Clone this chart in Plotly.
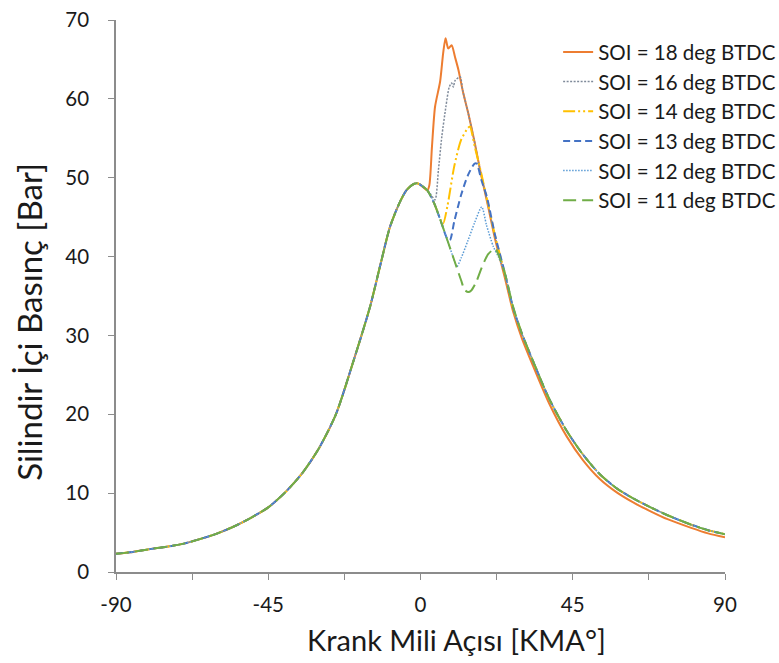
import plotly.graph_objects as go

# Common compression curve (all SOI cases identical here)
BASE_ANGLE = [-90, -85, -80, -75, -70, -65, -60, -55, -50, -45, -40, -35, -30, -25, -20, -15, -12, -9, -6, -4, -2, -1, 0, 2]
BASE_P = [2.3, 2.55, 2.9, 3.2, 3.6, 4.2, 4.9, 5.8, 6.9, 8.2, 10.1, 12.5, 15.7, 20.0, 26.5, 33.5, 38.7, 43.8, 47.0, 48.5, 49.2, 49.3, 49.1, 48.4]

# Combustion region, per case
A18 = [2.6, 3.4, 4.3, 5.8, 6.7, 7.4, 8.2, 9.2, 10.2, 11.2, 12.5, 14.1, 16.0, 17.6, 20.0, 22.0, 25.0, 27.4]
P18 = [49.0, 54.0, 59.0, 62.2, 65.8, 67.7, 66.4, 66.8, 65.3, 63.7, 61.0, 58.2, 54.5, 51.0, 46.3, 42.3, 37.2, 33.0]

A16 = [3.0, 4.3, 5.3, 6.3, 7.5, 8.5, 9.2, 9.7, 10.2, 11.7, 12.5, 14.1, 16.0, 17.6, 20.0, 22.0, 25.0, 27.4]
P16 = [47.9, 47.2, 51.0, 55.2, 59.0, 61.5, 62.0, 61.5, 62.3, 62.8, 61.0, 58.2, 54.5, 51.0, 46.5, 42.6, 37.6, 33.4]

A14 = [4.0, 6.0, 6.7, 8.0, 10.0, 12.0, 14.0, 14.6, 16.0, 17.6, 20.0, 22.0, 25.0, 27.4]
P14 = [46.8, 44.6, 44.2, 46.5, 51.5, 54.8, 56.3, 56.5, 54.0, 51.2, 46.6, 42.7, 37.7, 33.4]

A13 = [4.0, 6.0, 8.0, 8.7, 10.0, 12.0, 14.0, 16.0, 16.6, 18.0, 19.6, 22.0, 25.0, 27.4]
P13 = [46.8, 44.5, 42.2, 42.1, 44.5, 47.8, 50.3, 51.8, 51.8, 49.7, 47.6, 42.8, 37.8, 33.5]

A12 = [4.0, 6.0, 8.0, 10.0, 10.7, 12.0, 14.0, 16.0, 18.1, 19.5, 21.5, 23.0, 25.0, 27.4]
P12 = [46.8, 44.5, 42.0, 39.5, 38.7, 39.8, 42.0, 44.3, 46.3, 44.0, 41.3, 40.0, 37.8, 33.5]

A11 = [4.0, 6.0, 8.0, 10.0, 12.0, 13.0, 14.1, 15.0, 16.5, 18.0, 20.0, 22.0, 23.0, 25.0, 27.4]
P11 = [46.8, 44.5, 42.0, 39.5, 37.0, 35.8, 35.5, 35.7, 36.8, 38.5, 40.3, 41.0, 40.3, 37.8, 33.6]

# Expansion tail
TAIL_ANGLE = [30, 33.3, 38, 43.2, 48, 53, 58, 63, 68, 73, 80, 85, 90]
TAIL_P_18 = [29.6, 26.1, 21.4, 17.2, 14.2, 11.8, 10.1, 8.8, 7.7, 6.7, 5.6, 4.9, 4.4]
TAIL_P_REST = [30.2, 26.7, 22.0, 17.9, 14.9, 12.4, 10.6, 9.3, 8.2, 7.2, 6.0, 5.3, 4.8]

X_TICKS = [-90, -45, 0, 45, 90]
X_TICK_TEXT = ["-90", "-45", "0", "45", "90"]
X_TITLE = "Krank Mili Açısı [KMA°]"
Y_TITLE = "Silindir İçi Basınç [Bar]"

NAMES = ["SOI = 18 deg BTDC", "SOI = 16 deg BTDC", "SOI = 14 deg BTDC",
         "SOI = 13 deg BTDC", "SOI = 12 deg BTDC", "SOI = 11 deg BTDC"]
COLORS = ["#ED7D31", "#7F8A9A", "#FFC000", "#4472C4", "#5B9BD5", "#70AD47"]
DASHES = ["solid", "2px,1.5px", "12px,3px,2px,3px,2px,3px", "7px,4px", "1.5px,1.5px", "13px,6px"]
WIDTHS = [2, 1.5, 2, 2, 1.5, 2]

MID = [(A18, P18), (A16, P16), (A14, P14), (A13, P13), (A12, P12), (A11, P11)]
TAILS = [TAIL_P_18] + [TAIL_P_REST] * 5

fig = go.Figure()
for i, name in enumerate(NAMES):
    a, p = MID[i]
    x = BASE_ANGLE + a + TAIL_ANGLE
    y = BASE_P + p + TAILS[i]
    fig.add_trace(go.Scatter(
        x=x, y=y, mode="lines", name=name,
        line=dict(color=COLORS[i], width=WIDTHS[i], dash=DASHES[i], shape="spline", smoothing=0.7),
    ))

FONT = "Lato"
TXT = "#1a1a1a"
axis_color = "#8C8C8C"
fig.update_layout(
    width=779, height=663,
    margin=dict(l=116, r=54, t=20, b=91, autoexpand=False),
    paper_bgcolor="white", plot_bgcolor="white",
    font=dict(family=FONT, color=TXT, size=20),
    showlegend=True,
    legend=dict(x=0.726, y=0.978, xanchor="left", yanchor="top",
                font=dict(family=FONT, size=20.5, color=TXT),
                bgcolor="rgba(255,255,255,0)", tracegroupgap=0),
    xaxis=dict(
        range=[-90, 90], tickvals=X_TICKS, ticktext=X_TICK_TEXT,
        showline=True, linecolor=axis_color, linewidth=1.5,
        ticks="outside", ticklen=6, tickcolor=axis_color, tickwidth=1.2,
        minor=dict(dtick=22.5, tick0=-90, ticks="outside", ticklen=6, tickcolor=axis_color, tickwidth=1.2),
        showgrid=False, zeroline=False, automargin=False,
        tickfont=dict(family=FONT, size=20.5, color=TXT),
        ticklabelstandoff=8,
    ),
    yaxis=dict(
        range=[0, 70], dtick=10, tick0=0,
        showline=True, linecolor=axis_color, linewidth=1.5,
        ticks="outside", ticklen=6, tickcolor=axis_color, tickwidth=1.2,
        showgrid=False, zeroline=False, automargin=False,
        tickfont=dict(family=FONT, size=20.5, color=TXT),
        ticklabelstandoff=15,
    ),
    annotations=[
        dict(text=X_TITLE, xref="paper", yref="paper", x=0.559, y=-0.157,
             xanchor="center", yanchor="bottom", showarrow=False,
             font=dict(family=FONT, size=29, color=TXT)),
        dict(text=Y_TITLE, xref="paper", yref="paper", x=-0.143, y=0.453,
             xanchor="center", yanchor="middle", showarrow=False, textangle=-90,
             font=dict(family=FONT, size=33, color=TXT)),
    ],
)

fig.write_html("out.html")
